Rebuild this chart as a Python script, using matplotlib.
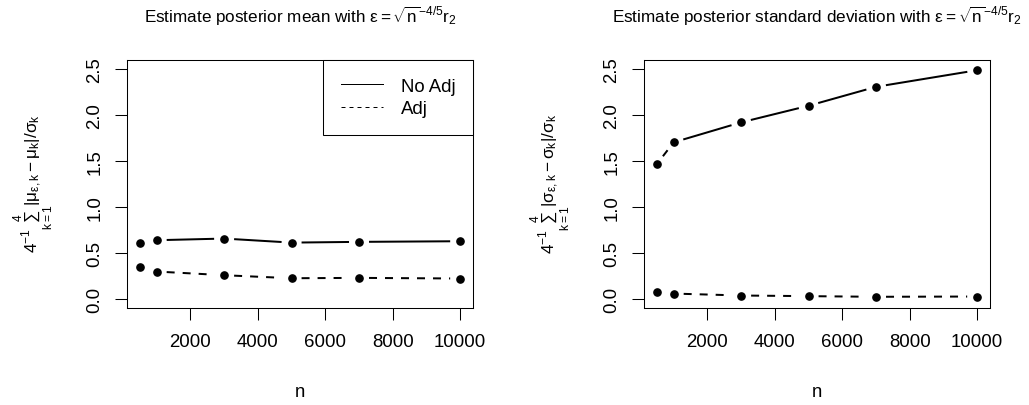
import numpy as np
import matplotlib
matplotlib.use("Agg")
import matplotlib.pyplot as plt
from matplotlib.lines import Line2D

plt.rcParams["font.family"] = ["Liberation Sans", "DejaVu Sans"]
plt.rcParams["mathtext.fontset"] = "custom"
plt.rcParams["mathtext.rm"] = "Liberation Sans"
plt.rcParams["mathtext.it"] = "Liberation Sans"
plt.rcParams["mathtext.sf"] = "Liberation Sans"
plt.rcParams["mathtext.bf"] = "Liberation Sans:bold"

# %%
# sample sizes and mean absolute (scaled) errors over the 4 components
n = [500, 1000, 3000, 5000, 7000, 10000]
mean_noadj = [0.605, 0.638, 0.656, 0.612, 0.620, 0.627]
mean_adj = [0.345, 0.297, 0.257, 0.224, 0.228, 0.221]
sd_noadj = [1.466, 1.704, 1.921, 2.102, 2.308, 2.489]
sd_adj = [0.079, 0.057, 0.036, 0.029, 0.022, 0.025]

xticks = [2000, 4000, 6000, 8000, 10000]
yticks = [0.0, 0.5, 1.0, 1.5, 2.0, 2.5]

titles = [
    r"Estimate posterior mean with $\varepsilon = \sqrt{n}^{-4/5}r_2$",
    r"Estimate posterior standard deviation with $\varepsilon = \sqrt{n}^{-4/5}r_2$",
]
ylabels = [
    r"$4^{-1}\sum_{k=1}^{4}|\mu_{\varepsilon,k} - \mu_k|/\sigma_k$",
    r"$4^{-1}\sum_{k=1}^{4}|\sigma_{\varepsilon,k} - \sigma_k|/\sigma_k$",
]

LW = 1.44  # line width in points
DASH = (4, 4)
GAP = 10  # pixels left blank around each point


def plot_b(ax, x, y, gap_px=GAP, **kwargs):
    """points joined by line segments that stop short of each point"""
    ax.plot(x, y, "o", color="black", markersize=5.2, zorder=3)
    pts = ax.transData.transform(np.column_stack([x, y]))
    inv = ax.transData.inverted()
    for p0, p1 in zip(pts[:-1], pts[1:]):
        d = p1 - p0
        length = np.hypot(*d)
        if length <= 2 * gap_px:
            continue
        u = d / length
        seg = inv.transform(np.array([p0 + u * gap_px, p1 - u * gap_px]))
        ax.plot(seg[:, 0], seg[:, 1], color="black", lw=LW,
                solid_capstyle="butt", dash_capstyle="butt", **kwargs)


# %%
W, H = 1029, 406
fig = plt.figure(figsize=(W / 100, H / 100), dpi=100)
lefts = [127, 644]
axs = []
for i, left in enumerate(lefts):
    ax = fig.add_axes([left / W, 1 - 309 / H, 346 / W, 248 / H])
    ax.set_xlim(120, 10380)
    ax.set_ylim(-0.1, 2.6)
    ax.set_xticks(xticks)
    ax.set_xticklabels([str(t) for t in xticks])
    ax.set_yticks(yticks)
    ax.set_yticklabels(["%.1f" % t for t in yticks])
    ax.tick_params(axis="both", direction="out", length=8.3, width=0.75,
                   labelsize=13.4, color="black")
    ax.tick_params(axis="x", pad=9.5)
    ax.tick_params(axis="y", pad=8.6, labelrotation=90)
    for lab in ax.get_yticklabels():
        lab.set_va("center")
    for sp in ax.spines.values():
        sp.set_linewidth(0.75)
    cx = (left + 173) / W
    fig.text(cx, 1 - 22.7 / H, titles[i], ha="center", va="baseline",
             fontsize=12.3)
    fig.text(cx, 1 - 397 / H, "n", ha="center", va="baseline", fontsize=13.4)
    fig.text((left - 93) / W, 1 - 184 / H, ylabels[i], rotation=90,
             ha="center", va="center", fontsize=12.3)
    axs.append(ax)

plot_b(axs[0], n, mean_noadj)
plot_b(axs[0], n, mean_adj, dashes=DASH)
plot_b(axs[1], n, sd_noadj)
plot_b(axs[1], n, sd_adj, dashes=DASH)

handles = [
    Line2D([], [], color="black", lw=0.72),
    Line2D([], [], color="black", lw=0.72, dashes=(4, 4)),
]
leg = axs[0].legend(handles, ["No Adj", "Adj"], loc="upper right",
                    fontsize=13.4, frameon=True, fancybox=False,
                    edgecolor="black", framealpha=1, borderaxespad=0,
                    handlelength=2.26, handletextpad=0.97, borderpad=0.95,
                    labelspacing=0.3)
leg.get_frame().set_linewidth(0.75)

fig.savefig("out.png", dpi=100, facecolor="w")
